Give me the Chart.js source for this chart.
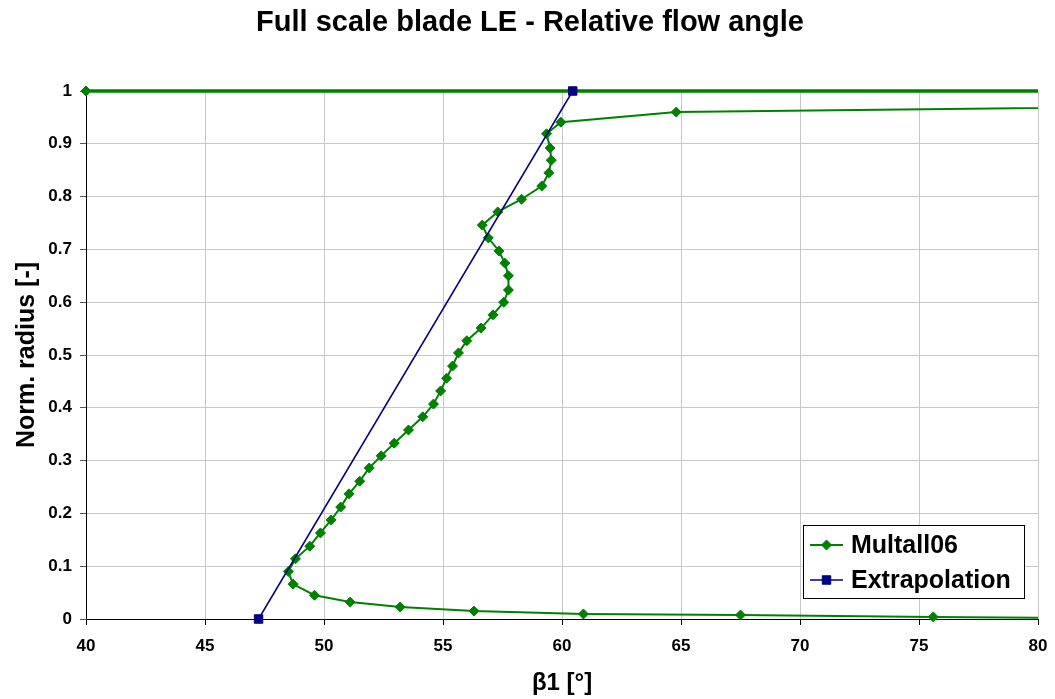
<!DOCTYPE html>
<html>
<head>
<meta charset="utf-8">
<script src="https://cdn.jsdelivr.net/npm/chart.js@4.4.1/dist/chart.umd.min.js"></script>
<style>
  html, body { margin: 0; padding: 0; background: #ffffff; }
  #wrap { width: 1055px; height: 699px; }
</style>
</head>
<body>
<div id="wrap"><canvas id="bladeChart" width="1055" height="699"></canvas></div>
<script>
// ===== 数据 =====
const chartTitle = "Full scale blade LE - Relative flow angle";
const xTitle = "β1 [°]";
const yTitle = "Norm. radius [-]";

// Multall06: hub -> tip (points beyond 80° are cut by the axis)
const multallBeta = [88, 75.6, 67.5, 60.9, 56.3, 53.2, 51.1, 49.6, 48.7, 48.5,
  48.8, 49.4, 49.85, 50.3, 50.7, 51.05, 51.5, 51.9, 52.4, 52.95,
  53.55, 54.15, 54.6, 54.9, 55.15, 55.4, 55.65, 56.0, 56.6, 57.1,
  57.55, 57.75, 57.75, 57.6, 57.35, 56.9, 56.65, 57.3, 58.3, 59.15,
  59.45, 59.55, 59.5, 59.35, 59.95, 64.8, 88, 90, 40];
const multallRadius = [0, 0.004, 0.0076, 0.0095, 0.015, 0.0227, 0.032, 0.045, 0.066, 0.09,
  0.114, 0.138, 0.163, 0.1875, 0.212, 0.237, 0.261, 0.286, 0.309, 0.333,
  0.358, 0.383, 0.407, 0.432, 0.456, 0.479, 0.504, 0.527, 0.551, 0.576,
  0.600, 0.623, 0.650, 0.674, 0.697, 0.722, 0.746, 0.771, 0.795, 0.820,
  0.845, 0.869, 0.892, 0.919, 0.941, 0.960, 0.972, 1.0, 1.0];

// Extrapolation: straight line hub -> tip
const extraBeta = [47.25, 60.45];
const extraRadius = [0, 1];

const xMin = 40, xMax = 80, xStep = 5;
const yMin = 0, yMax = 1, yStep = 0.1;

const FONT = "Arial, 'Liberation Sans', sans-serif";

function toPoints(xs, ys) {
  return xs.map((x, i) => ({ x: x, y: ys[i] }));
}

// ===== 标题（居中于整张图）=====
const pageTitle = {
  id: "pageTitle",
  afterDraw(chart) {
    const ctx = chart.ctx;
    ctx.save();
    ctx.fillStyle = "#000000";
    ctx.font = "bold 29px " + FONT;
    ctx.textAlign = "center";
    ctx.textBaseline = "middle";
    ctx.fillText(chartTitle, 530, 23);
    ctx.restore();
  }
};

// ===== 图例（带边框）=====
const boxLegend = {
  id: "boxLegend",
  afterDraw(chart) {
    const ctx = chart.ctx;
    const area = chart.chartArea;
    const w = 221, h = 73;
    const x0 = area.right - 14 - w;
    const y0 = area.bottom - 21 - h;
    ctx.save();
    ctx.fillStyle = "#ffffff";
    ctx.fillRect(x0, y0, w, h);
    ctx.strokeStyle = "#000000";
    ctx.lineWidth = 1;
    ctx.strokeRect(x0 + 0.5, y0 + 0.5, w, h);
    const rows = [20, 55];
    chart.data.datasets.forEach((ds, i) => {
      const cy = y0 + rows[i];
      ctx.strokeStyle = ds.borderColor;
      ctx.lineWidth = ds.borderWidth;
      ctx.beginPath();
      ctx.moveTo(x0 + 7, cy);
      ctx.lineTo(x0 + 40, cy);
      ctx.stroke();
      ctx.fillStyle = ds.pointBackgroundColor;
      ctx.strokeStyle = ds.pointBorderColor;
      ctx.lineWidth = 1;
      Chart.helpers.drawPoint(ctx, { pointStyle: ds.pointStyle, radius: ds.pointRadius, borderWidth: 1 }, x0 + 23.5, cy);
      ctx.fillStyle = "#000000";
      ctx.font = "bold 25px " + FONT;
      ctx.textBaseline = "middle";
      ctx.textAlign = "left";
      ctx.fillText(ds.label, x0 + 48, cy + 1);
    });
    ctx.restore();
  }
};

const ctx = document.getElementById("bladeChart").getContext("2d");
new Chart(ctx, {
  type: "scatter",
  data: {
    datasets: [
      {
        label: "Multall06",
        data: toPoints(multallBeta, multallRadius),
        showLine: true,
        borderColor: "#008000",
        backgroundColor: "#008000",
        borderWidth: 2,
        // 外缘 r=1 处的线在原图里更粗
        segment: {
          borderWidth: (c) => (c.p0.parsed.y === 1 && c.p1.parsed.y === 1) ? 3.5 : 2
        },
        pointStyle: "rectRot",
        pointRadius: 5,
        pointBackgroundColor: "#008000",
        pointBorderColor: "#008000",
        pointBorderWidth: 1,
        tension: 0,
        order: 1,
        clip: { left: 7, top: 7, right: 0, bottom: 7 }
      },
      {
        label: "Extrapolation",
        data: toPoints(extraBeta, extraRadius),
        showLine: true,
        borderColor: "#000080",
        backgroundColor: "#000080",
        borderWidth: 1.5,
        pointStyle: "rect",
        pointRadius: 6,
        pointBackgroundColor: "#000080",
        pointBorderColor: "#000080",
        pointBorderWidth: 1,
        tension: 0,
        order: 0,
        clip: 8
      }
    ]
  },
  options: {
    responsive: false,
    devicePixelRatio: 1,
    animation: false,
    layout: { padding: { top: 91, right: 17, bottom: 0, left: 0 } },
    plugins: {
      legend: { display: false },
      tooltip: { enabled: false },
      title: { display: false }
    },
    scales: {
      x: {
        type: "linear",
        min: xMin,
        max: xMax,
        border: { display: true, color: "#000000", width: 1 },
        grid: { color: "#c8c8c8", lineWidth: 1, drawTicks: true, tickLength: 6, tickColor: "#000000" },
        ticks: { stepSize: xStep, color: "#000000", padding: 11, font: { family: FONT, size: 17, weight: "bold" } },
        title: { display: true, text: xTitle, color: "#000000", padding: { top: 0, bottom: 1 }, font: { family: FONT, size: 24, weight: "bold" } },
        afterFit(scale) {
          scale.height = 80;
          scale.paddingLeft = 0;
          scale.paddingRight = 0;
        }
      },
      y: {
        type: "linear",
        min: yMin,
        max: yMax,
        border: { display: true, color: "#000000", width: 1 },
        grid: { color: "#c8c8c8", lineWidth: 1, drawTicks: true, tickLength: 6, tickColor: "#555555" },
        ticks: {
          stepSize: yStep, color: "#000000", padding: 8,
          font: { family: FONT, size: 17, weight: "bold" },
          callback: (v) => String(Number(Number(v).toFixed(1)))
        },
        title: { display: true, text: yTitle, color: "#000000", padding: { top: 12, bottom: 0 }, font: { family: FONT, size: 25, weight: "bold" } },
        afterFit(scale) { scale.width = 86; }
      }
    }
  },
  plugins: [pageTitle, boxLegend]
});
</script>
</body>
</html>
